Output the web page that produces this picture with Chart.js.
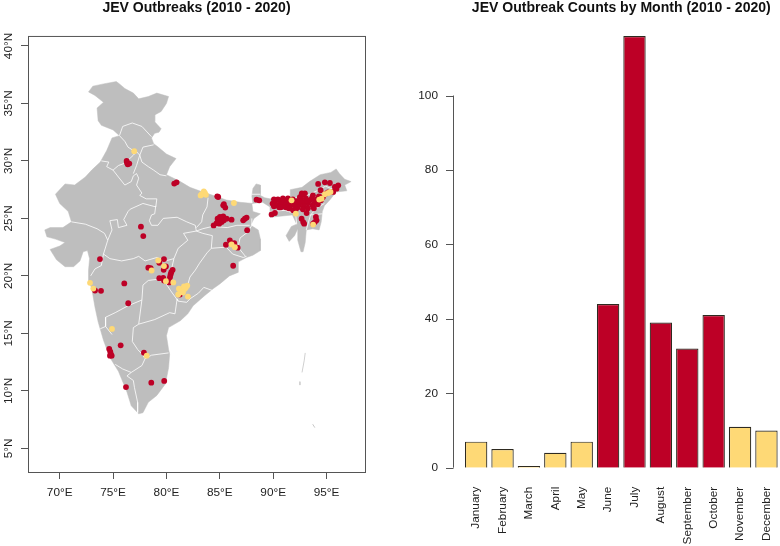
<!DOCTYPE html>
<html>
<head>
<meta charset="utf-8">
<script src="https://cdn.jsdelivr.net/npm/chart.js@4/dist/chart.umd.min.js"></script>
<style>
html,body{margin:0;padding:0;background:#fff;}
canvas{position:absolute;top:0;display:block;}
#mapChart{left:0;}
#barChart{left:400px;}
</style>
</head>
<body>
<canvas id="mapChart" width="400" height="546"></canvas>
<canvas id="barChart" width="380" height="546"></canvas>
<script>
const mapTitle = 'JEV Outbreaks (2010 - 2020)';
const barTitle = 'JEV Outbreak Counts by Month (2010 - 2020)';
const lonTicks = [70,75,80,85,90,95];
const latTicks = [5,10,15,20,25,30,35,40];
const months = ['January','February','March','April','May','June','July','August','September','October','November','December'];
const counts = [7,5,0,4,7,44,116,39,32,41,11,10];
const countTicks = [0,20,40,60,80,100];

const mainland = [[72.7,36.0],[73.1,36.5],[74.1,36.7],[75.3,36.9],[75.6,36.7],[76.1,36.3],[76.9,35.9],[77.4,35.4],[78.3,35.6],[79.1,35.9],[80.2,35.6],[80.0,35.0],[79.5,34.3],[78.9,34.0],[78.9,33.4],[79.5,32.8],[79.3,32.5],[78.9,32.4],[78.6,32.0],[78.8,31.5],[79.1,31.3],[80.0,30.6],[80.9,30.2],[80.3,29.5],[80.0,28.8],[81.3,28.2],[82.2,27.7],[83.4,27.3],[84.7,26.9],[85.6,26.6],[86.9,26.4],[88.1,26.3],[88.0,26.9],[88.1,27.6],[88.4,28.0],[88.8,27.9],[88.8,27.0],[89.2,26.8],[89.7,26.7],[91.6,26.8],[91.6,27.5],[92.7,27.7],[93.4,28.2],[94.4,28.8],[95.4,29.0],[95.9,29.3],[96.2,28.9],[96.7,28.4],[97.3,28.2],[96.7,27.9],[96.9,27.4],[95.9,27.3],[95.3,26.6],[94.8,26.1],[94.6,25.6],[94.5,24.7],[94.3,24.0],[93.7,24.1],[93.1,24.0],[93.0,22.9],[92.8,22.1],[92.6,22.1],[92.3,23.1],[92.3,24.1],[92.0,23.5],[91.5,23.0],[91.2,23.5],[91.7,24.3],[92.2,24.5],[91.8,25.3],[89.7,25.1],[89.7,26.0],[89.0,26.4],[88.0,26.3],[88.1,25.6],[88.8,25.4],[88.2,25.0],[87.9,24.4],[88.6,24.0],[88.8,23.2],[88.8,22.2],[88.1,21.8],[87.5,21.6],[86.7,21.2],[86.7,20.3],[85.9,20.0],[85.0,19.3],[84.4,18.9],[83.6,18.3],[82.5,17.4],[82.0,16.7],[81.3,16.1],[80.2,15.5],[80.0,14.8],[80.2,13.6],[80.3,13.2],[80.2,12.0],[79.9,10.6],[79.1,9.6],[78.3,9.0],[77.8,8.1],[77.4,8.0],[76.7,8.7],[76.3,9.9],[75.5,11.7],[74.7,12.9],[74.1,14.4],[73.6,16.0],[73.3,17.3],[73.0,18.9],[72.7,19.6],[72.7,20.5],[72.8,21.5],[72.6,22.2],[72.2,22.1],[71.9,21.3],[71.3,20.8],[70.5,20.8],[69.7,21.4],[69.1,22.3],[70.0,22.6],[70.5,22.9],[69.6,23.2],[68.8,23.4],[68.6,24.0],[69.1,24.2],[70.3,24.2],[71.1,24.7],[70.8,25.6],[70.0,26.3],[69.6,27.1],[69.9,27.4],[70.5,28.0],[71.4,27.9],[72.4,28.6],[73.0,29.2],[73.8,29.9],[74.4,30.9],[74.9,32.0],[75.6,32.2],[75.0,32.7],[73.9,33.1],[73.6,33.5],[73.5,34.6],[74.1,35.1],[73.3,35.7],[72.7,36.0]];

const islandsA = [[93.0,13.3],[92.9,12.6],[92.7,11.6]];
const islandsB = [[92.5,10.8],[92.5,10.5]];
const islandsC = [[93.7,7.1],[93.9,6.8]];

const stateLines = [
  [[75.6,32.2],[75.9,33.0],[76.8,33.3],[77.7,33.0],[78.1,32.6],[78.6,32.1]],
  [[75.6,32.2],[76.1,31.7],[76.4,31.2],[76.9,30.9],[77.2,30.8],[77.5,30.5]],
  [[78.8,31.4],[77.8,31.2],[77.5,30.5],[77.7,29.9],[78.3,29.5],[78.8,29.2],[79.4,28.8],[80.0,28.7]],
  [[73.9,30.0],[74.6,29.9],[74.4,29.5],[75.0,29.2],[75.5,29.6],[76.1,29.8],[76.9,30.5],[77.2,30.8]],
  [[75.0,29.2],[75.5,28.6],[76.1,27.9],[76.7,28.2],[76.9,28.7],[77.2,28.9],[77.4,28.5],[77.2,27.9],[77.7,27.2]],
  [[77.5,30.5],[77.2,29.6],[76.9,28.9]],
  [[71.1,24.7],[72.4,24.5],[73.5,24.1],[74.2,23.7],[74.5,23.1]],
  [[74.5,23.1],[74.9,24.0],[74.7,24.8],[75.4,24.9],[75.5,24.2],[76.3,24.4],[76.0,24.9],[76.4,25.6],[76.6,25.8],[77.8,26.3],[79.0,26.0],[79.1,26.7],[78.1,26.7],[77.5,27.0],[77.7,27.2]],
  [[79.0,26.1],[78.9,25.4],[78.6,25.3],[78.4,24.8],[78.6,24.4],[79.2,24.4],[79.7,25.0],[81.0,25.1],[81.9,24.7],[82.7,24.4],[82.8,23.9]],
  [[82.8,23.9],[81.6,23.7],[82.0,23.1],[81.1,22.4],[80.7,21.5],[80.5,20.7],[80.3,19.9],[79.9,19.4],[80.4,18.7],[81.1,17.8]],
  [[74.5,23.1],[74.1,21.9],[74.7,21.5],[75.8,21.3],[76.9,21.5],[77.4,21.7],[78.0,21.3],[79.1,21.6],[79.9,21.3],[80.7,21.5]],
  [[74.1,21.9],[73.9,20.9],[73.3,20.6],[72.9,20.0]],
  [[79.9,19.4],[79.1,19.7],[78.3,19.6],[77.8,19.2],[77.7,17.9],[77.4,15.8],[78.9,16.2],[80.3,16.8],[80.8,16.7],[81.0,18.0],[81.1,17.8]],
  [[81.1,17.8],[81.9,17.7],[82.2,18.0],[83.0,18.5],[83.5,19.0],[84.4,18.7]],
  [[81.4,18.2],[81.9,18.9],[82.2,19.9],[82.7,20.5],[83.1,21.1],[83.8,22.0],[84.2,22.4],[84.3,23.5],[83.4,23.7],[82.8,23.9]],
  [[84.2,22.4],[85.6,22.5],[86.2,21.9],[87.2,21.6],[87.5,21.7]],
  [[87.4,21.7],[86.7,22.5],[86.9,23.3],[87.6,23.8],[88.0,24.4],[88.0,25.0]],
  [[82.8,23.9],[83.4,24.1],[84.3,24.3],[85.7,24.2],[86.6,24.4],[87.8,24.4]],
  [[83.9,26.8],[83.8,26.0],[83.4,25.3],[83.3,24.7],[82.8,24.2]],
  [[77.7,17.9],[76.4,17.4],[75.2,16.8],[74.3,16.4],[74.3,15.6],[74.9,14.9]],
  [[74.3,15.6],[73.8,15.4]],
  [[75.2,12.3],[75.9,11.9],[76.7,11.6],[77.7,12.2],[78.0,12.8],[78.6,13.1],[80.2,13.3]],
  [[77.4,15.8],[76.9,15.5],[76.8,14.3],[77.3,13.6],[77.7,13.2],[78.0,12.8]],
  [[76.7,11.6],[76.3,11.3],[76.9,10.9],[77.0,10.3],[77.3,9.0],[77.3,8.1]],
  [[91.6,26.8],[92.7,26.8],[94.1,27.4],[94.9,27.8],[95.7,27.5]],
  [[93.5,25.3],[94.6,25.4]],
  [[93.5,25.3],[93.1,24.0]],
  [[94.8,26.3],[94.1,25.9],[93.5,25.3]],
  [[89.7,25.6],[91.1,25.7],[92.1,25.4],[92.2,24.5]],
  [[88.0,27.1],[88.8,27.1]]
];

const redSites = [[73.77,21.46],[77.61,24.28],[77.83,23.46],[76.27,30.0],[76.37,29.71],[76.52,29.77],[76.30,29.86],[80.73,28.03],[80.95,28.14],[84.85,26.86],[84.76,26.92],[85.32,26.14],[85.51,25.94],[85.38,26.23],[84.42,24.39],[84.70,24.59],[84.85,24.83],[85.01,25.12],[85.32,25.18],[84.94,24.54],[85.17,24.68],[85.38,24.83],[85.64,24.98],[84.79,24.98],[85.10,24.89],[86.10,24.89],[87.19,24.83],[87.35,24.98],[87.51,25.07],[87.56,23.98],[85.94,23.09],[85.57,22.71],[86.35,22.85],[86.67,22.45],[86.25,20.88],[88.44,26.63],[88.69,26.57],[89.94,26.29],[90.16,26.43],[90.37,26.14],[90.63,26.49],[90.84,26.22],[91.09,26.57],[91.31,26.29],[91.56,26.05],[91.75,26.40],[91.98,26.14],[92.22,26.49],[92.43,26.22],[92.59,26.66],[92.83,26.40],[93.06,26.75],[93.25,26.31],[93.44,26.57],[93.69,26.14],[93.90,26.40],[94.09,26.66],[94.28,26.92],[94.47,26.57],[94.65,26.84],[94.84,27.10],[95.12,27.27],[90.56,25.96],[91.03,26.05],[92.66,27.01],[93.72,27.01],[94.21,28.0],[94.84,28.14],[95.31,28.08],[94.44,27.45],[95.78,27.73],[96.09,27.88],[95.62,27.30],[95.93,27.59],[89.85,25.35],[90.16,25.47],[91.87,25.70],[93.13,25.47],[92.66,24.98],[92.81,24.68],[92.90,24.54],[94.0,25.12],[93.90,24.68],[93.74,24.54],[94.06,24.83],[79.77,21.46],[79.33,21.14],[79.95,20.82],[78.30,20.71],[78.52,20.67],[79.74,20.53],[80.58,20.53],[80.45,20.32],[80.39,20.12],[80.33,19.89],[79.33,19.80],[79.70,19.83],[79.77,19.60],[80.26,19.43],[81.26,18.38],[76.05,19.34],[73.31,18.73],[73.87,18.70],[76.42,17.62],[74.64,13.64],[74.74,13.41],[74.78,13.21],[74.87,13.06],[74.71,13.06],[75.71,13.96],[77.89,13.32],[76.21,10.33],[78.58,10.71],[79.79,10.86],[90.07,26.66],[90.07,26.05],[90.44,26.66],[90.72,25.96],[91.19,25.96],[90.91,26.75],[91.38,26.75],[91.84,26.66],[91.47,25.88],[92.03,26.40],[92.31,25.96],[92.50,26.84],[92.97,27.18],[92.87,26.05],[93.25,25.88],[93.62,26.75],[93.81,25.88],[94.18,26.23],[93.15,26.57],[92.12,25.79],[92.78,25.79],[92.68,27.18],[92.50,26.49]];

const yellowSites = [[76.98,30.85],[83.45,27.16],[83.30,27.10],[83.60,27.21],[83.2,27.0],[83.5,27.35],[83.7,27.05],[86.32,26.34],[91.72,26.57],[92.12,25.41],[94.31,26.64],[94.53,26.72],[94.84,27.10],[95.15,27.21],[95.37,27.30],[93.74,24.46],[86.10,22.74],[86.41,22.50],[79.23,21.34],[79.77,20.85],[78.61,20.47],[79.95,19.54],[80.64,19.43],[81.17,18.88],[81.42,18.67],[81.73,18.88],[81.95,19.16],[81.83,19.02],[81.10,18.38],[81.33,18.58],[82.01,18.20],[81.55,18.55],[81.64,19.08],[72.84,19.40],[73.15,18.90],[74.90,15.39],[78.15,13.06]];

const RED = '#BD0026', YELLOW = '#FED976', LAND = '#BEBEBE', AXIS = '#555555', TEXT = '#222222';
const FONT = '"Liberation Sans", Arial, Helvetica, sans-serif';
Chart.defaults.font.family = FONT;
Chart.defaults.font.size = 11.8;
Chart.defaults.color = TEXT;
Chart.defaults.animation = false;

const toXY = pts => pts.map(([x, y]) => ({x, y}));
const linePart = (pts, color, order, width) => ({type:'scatter', data:toXY(pts), showLine:true, fill:false, borderColor:color, borderWidth:width, pointRadius:0, order});
const dots = (pts, color, order) => ({type:'scatter', data:toXY(pts), showLine:false, pointRadius:2.9, pointBorderWidth:0, backgroundColor:color, pointBackgroundColor:color, order});

const mapFrame = {
  id:'mapFrame',
  afterDraw(chart){
    const {ctx, chartArea:a, scales:{y}} = chart;
    ctx.save();
    ctx.strokeStyle = AXIS; ctx.lineWidth = 1;
    ctx.strokeRect(a.left + .5, a.top + .5, a.right - a.left, a.bottom - a.top);
    ctx.fillStyle = TEXT; ctx.font = '11.8px ' + FONT;
    ctx.textAlign = 'center'; ctx.textBaseline = 'alphabetic';
    latTicks.forEach(v => {
      ctx.save();
      ctx.translate(12, y.getPixelForValue(v));
      ctx.rotate(-Math.PI / 2);
      ctx.fillText(v + '°N', 0, 0);
      ctx.restore();
    });
    ctx.restore();
  }
};

new Chart(document.getElementById('mapChart'), {
  type:'scatter',
  data:{datasets:[
    {type:'scatter', data:toXY(mainland), showLine:true, fill:'shape', backgroundColor:LAND, borderColor:LAND, borderWidth:0.5, pointRadius:0, order:5},
    linePart(islandsA, '#D0D0D0', 5, 1), linePart(islandsB, '#D0D0D0', 5, 1), linePart(islandsC, '#C8C8C8', 5, 1),
    ...stateLines.map(s => linePart(s, '#FFFFFF', 4, 0.8)),
    dots(redSites, RED, 2),
    dots(yellowSites, YELLOW, 1)
  ]},
  options:{
    responsive:false,
    layout:{padding:{left:0, right:35, top:0, bottom:0}},
    plugins:{legend:{display:false}, tooltip:{enabled:false},
      title:{display:true, text:mapTitle, fullSize:false, color:'#111', font:{size:14.05, weight:'bold'}, padding:{top:0, bottom:19.1}}},
    scales:{
      x:{type:'linear', min:67.03, max:98.6,
        afterBuildTicks:s => { s.ticks = lonTicks.map(value => ({value})); },
        afterFit:s => { s.height = 74; s.paddingLeft = 0; s.paddingRight = 0; },
        border:{display:false},
        grid:{drawOnChartArea:false, drawTicks:true, tickLength:7, tickColor:AXIS},
        ticks:{padding:7, maxRotation:0, autoSkip:false, callback:v => v + '°E'}},
      y:{type:'linear', min:2.94, max:40.87,
        afterBuildTicks:s => { s.ticks = latTicks.map(value => ({value})); },
        afterFit:s => { s.width = 28; s.paddingTop = 0; s.paddingBottom = 0; },
        border:{display:false},
        grid:{drawOnChartArea:false, drawTicks:true, tickLength:7, tickColor:AXIS},
        ticks:{display:false}}
    }
  },
  plugins:[mapFrame]
});

const countAxis = {
  id:'countAxis',
  afterDraw(chart){
    const {ctx, chartArea:a, scales:{y}} = chart;
    const ax = Math.round(a.left - 10.3) + .5;
    ctx.save();
    ctx.strokeStyle = AXIS; ctx.lineWidth = 1;
    ctx.beginPath();
    ctx.moveTo(ax, y.getPixelForValue(countTicks[0]));
    ctx.lineTo(ax, y.getPixelForValue(countTicks[countTicks.length - 1]));
    countTicks.forEach(v => {
      const p = Math.round(y.getPixelForValue(v)) + .5;
      ctx.moveTo(ax, p); ctx.lineTo(ax - 7.5, p);
    });
    ctx.stroke();
    ctx.restore();
  }
};

new Chart(document.getElementById('barChart'), {
  type:'bar',
  data:{labels:months, datasets:[{
    data:counts,
    backgroundColor:counts.map(v => v >= 30 ? RED : YELLOW),
    borderColor:'#2e2a20', borderWidth:1.2,
    categoryPercentage:1, barPercentage:0.848, minBarLength:1.6
  }]},
  options:{
    responsive:false,
    layout:{padding:{left:0, right:0.35, top:0, bottom:0}},
    plugins:{legend:{display:false}, tooltip:{enabled:false},
      title:{display:true, text:barTitle, fullSize:false, color:'#111', font:{size:14.05, weight:'bold'}, padding:{top:0, bottom:19.1}}},
    scales:{
      x:{type:'category', offset:true,
        afterFit:s => { s.height = 78.3; s.paddingLeft = 0; s.paddingRight = 0; },
        border:{display:false}, grid:{display:false},
        ticks:{autoSkip:false, minRotation:90, maxRotation:90, padding:11}},
      y:{type:'linear', min:0, max:116,
        afterBuildTicks:s => { s.ticks = countTicks.map(value => ({value})); },
        afterFit:s => { s.width = 62.95; s.paddingTop = 0; s.paddingBottom = 0; },
        border:{display:false}, grid:{display:false},
        ticks:{padding:17}}
    }
  },
  plugins:[countAxis]
});
</script>
</body>
</html>
